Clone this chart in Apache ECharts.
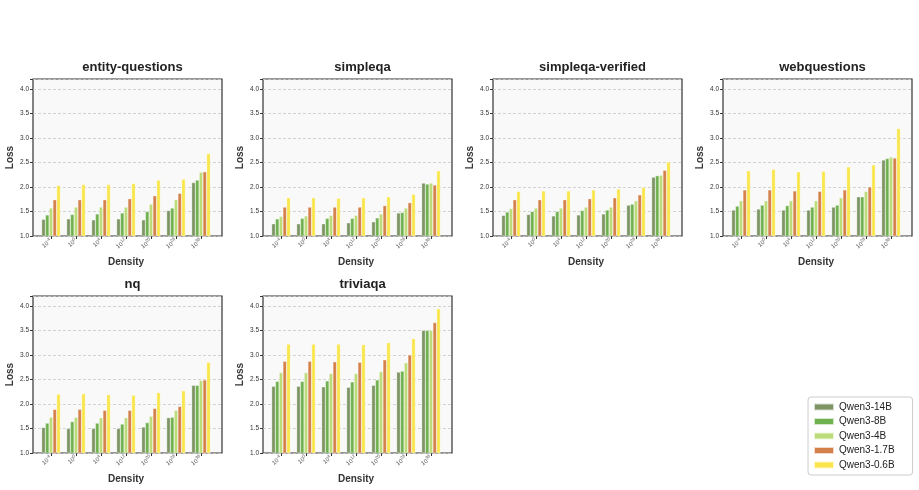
<!DOCTYPE html>
<html>
<head>
<meta charset="utf-8">
<script src="https://cdn.jsdelivr.net/npm/echarts@6/dist/echarts.min.js"></script>
<style>
    html, body {margin:0; padding:0; background:#fff;}
    #main {width:919px; height:490px;}
</style>
</head>
<body>
<div id="main"></div>
<script>
// tick labels (exponents of 10)
var densityExp = ['-4', '0', '4', '12', '20', '28', '36'];
var models = ['Qwen3-14B', 'Qwen3-8B', 'Qwen3-4B', 'Qwen3-1.7B', 'Qwen3-0.6B'];
var colors = ['#7d9463', '#6fb04f', '#bcdc7a', '#d4804a', '#fae54a'];

// loss per model (rows in model order), per density
var entityQuestions = [
    [1.34, 1.35, 1.33, 1.35, 1.33, 1.52, 2.09],
    [1.43, 1.44, 1.45, 1.47, 1.50, 1.57, 2.14],
    [1.57, 1.59, 1.59, 1.59, 1.65, 1.74, 2.30],
    [1.74, 1.74, 1.74, 1.76, 1.82, 1.87, 2.31],
    [2.03, 2.05, 2.05, 2.07, 2.14, 2.16, 2.68]
];
var simpleqa = [
    [1.25, 1.25, 1.25, 1.27, 1.29, 1.47, 2.08],
    [1.35, 1.36, 1.36, 1.36, 1.37, 1.48, 2.06],
    [1.40, 1.41, 1.42, 1.42, 1.45, 1.57, 2.08],
    [1.59, 1.59, 1.59, 1.59, 1.62, 1.68, 2.04],
    [1.78, 1.78, 1.77, 1.78, 1.80, 1.85, 2.33]
];
var simpleqaVerified = [
    [1.42, 1.44, 1.41, 1.43, 1.45, 1.63, 2.20],
    [1.49, 1.50, 1.50, 1.52, 1.53, 1.65, 2.23],
    [1.56, 1.57, 1.57, 1.59, 1.59, 1.72, 2.24],
    [1.74, 1.74, 1.74, 1.76, 1.78, 1.84, 2.34],
    [1.91, 1.92, 1.92, 1.94, 1.96, 1.99, 2.51]
];
var webquestions = [
    [1.53, 1.55, 1.53, 1.53, 1.59, 1.80, 2.55],
    [1.61, 1.63, 1.62, 1.59, 1.63, 1.80, 2.58],
    [1.72, 1.72, 1.72, 1.72, 1.78, 1.91, 2.61],
    [1.94, 1.94, 1.92, 1.91, 1.94, 2.00, 2.59],
    [2.33, 2.36, 2.31, 2.32, 2.41, 2.45, 3.19]
];
var nq = [
    [1.52, 1.50, 1.50, 1.50, 1.53, 1.72, 2.38],
    [1.61, 1.64, 1.61, 1.59, 1.62, 1.73, 2.38],
    [1.73, 1.73, 1.72, 1.72, 1.75, 1.87, 2.48],
    [1.89, 1.89, 1.87, 1.87, 1.91, 1.95, 2.49],
    [2.20, 2.21, 2.19, 2.18, 2.23, 2.27, 2.85]
];
var triviaqa = [
    [2.36, 2.36, 2.35, 2.34, 2.38, 2.65, 3.50],
    [2.46, 2.46, 2.47, 2.45, 2.49, 2.67, 3.50],
    [2.64, 2.64, 2.62, 2.62, 2.66, 2.84, 3.50],
    [2.87, 2.87, 2.86, 2.85, 2.90, 3.00, 3.66],
    [3.22, 3.22, 3.22, 3.21, 3.25, 3.33, 3.94]
];

var panels = [
    {title: 'entity-questions', data: entityQuestions},
    {title: 'simpleqa', data: simpleqa},
    {title: 'simpleqa-verified', data: simpleqaVerified},
    {title: 'webquestions', data: webquestions},
    {title: 'nq', data: nq},
    {title: 'triviaqa', data: triviaqa}
];

var font = "'Liberation Sans', Arial, sans-serif";
var colLeft = [33, 263, 493, 723];
var rowTop = [79, 296];
var plotW = 189, plotH = 157;

var grids = [], xAxes = [], yAxes = [], series = [], titles = [];

panels.forEach(function (p, i) {
    var L = colLeft[i % 4], T = rowTop[Math.floor(i / 4)];
    var outer = i * 2, inner = i * 2 + 1;

    titles.push({
        text: p.title,
        left: L + plotW / 2, top: T - 23, textAlign: 'center',
        textStyle: {fontFamily: font, fontSize: 13, fontWeight: 'bold', color: '#222'}
    });

    // frame + y axis
    grids.push({
        left: L, top: T, width: plotW, height: plotH,
        show: true, backgroundColor: '#f9f9f9', borderColor: '#333', borderWidth: 1.2
    });
    xAxes.push({gridIndex: outer, type: 'value', min: 0, max: 1, show: false});
    yAxes.push({
        gridIndex: outer, type: 'value', min: 1, max: 4.2, interval: 0.5,
        name: 'Loss', nameLocation: 'middle', nameGap: 18,
        nameTextStyle: {fontFamily: font, fontSize: 10, fontWeight: 'bold', color: '#333'},
        axisLine: {show: false},
        axisTick: {show: true, length: 3, lineStyle: {color: '#333'}},
        axisLabel: {
            fontFamily: font, fontSize: 6.5, color: '#333', margin: 4,
            formatter: function (v) { return v > 4.1 ? '' : v.toFixed(1); }
        },
        splitLine: {show: true, lineStyle: {color: '#c8c8c8', type: [3, 2], width: 0.8}}
    });

    // bars
    grids.push({left: L + 5.5, top: T, width: 175, height: plotH});
    xAxes.push({
        gridIndex: inner, type: 'category',
        data: densityExp,
        name: 'Density', nameLocation: 'middle', nameGap: 21,
        nameTextStyle: {fontFamily: font, fontSize: 10, fontWeight: 'bold', color: '#333'},
        axisLine: {show: false},
        axisTick: {show: true, alignWithLabel: true, length: 3, lineStyle: {color: '#333'}},
        axisLabel: {
            interval: 0, rotate: 40, margin: 4, color: '#555',
            formatter: function (v) { return '10{s|' + v + '}'; },
            rich: {s: {fontSize: 4.5, verticalAlign: 'top', padding: [0, 0, 4, 0], color: '#555'}},
            fontFamily: font, fontSize: 6
        }
    });
    yAxes.push({gridIndex: inner, type: 'value', min: 1, max: 4.2, show: false});

    p.data.forEach(function (vals, m) {
        series.push({
            name: models[m], type: 'bar',
            xAxisIndex: inner, yAxisIndex: inner,
            data: vals,
            barWidth: 3.75, barGap: '0%',
            itemStyle: {color: colors[m], borderColor: 'rgba(255,255,255,0.7)', borderWidth: 0.5},
            emphasis: {disabled: true}
        });
    });
});

var chart = echarts.init(document.getElementById('main'));
chart.setOption({
    backgroundColor: '#fff',
    animation: false,
    title: titles,
    grid: grids,
    xAxis: xAxes,
    yAxis: yAxes,
    legend: {
        data: models, orient: 'vertical',
        left: 808, top: 397,
        itemWidth: 20, itemHeight: 7, itemGap: 4.5,
        icon: 'rect',
        padding: [5, 18, 5, 5],
        borderColor: '#ccc', borderWidth: 1, borderRadius: 3, backgroundColor: '#fff',
        textStyle: {fontFamily: font, fontSize: 10, color: '#222'}
    },
    series: series
});
</script>
</body>
</html>
